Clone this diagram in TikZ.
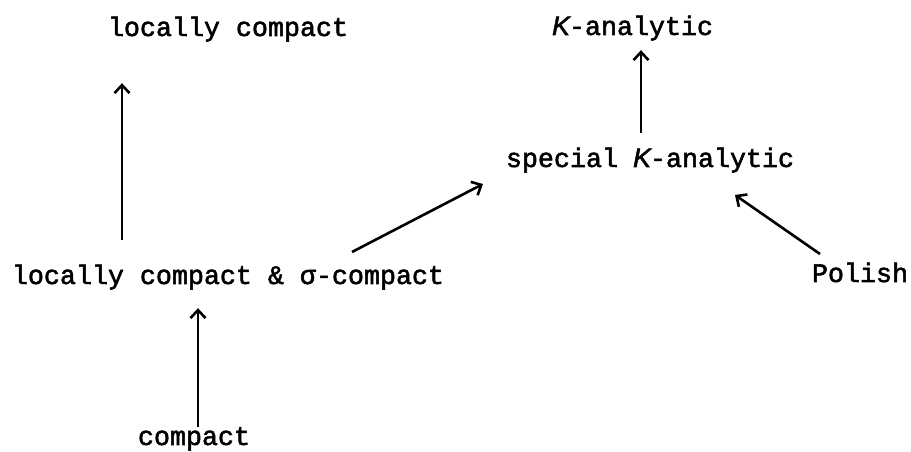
\documentclass[tikz,border=0pt]{standalone}
\usepackage{fontspec}
\setmainfont{Liberation Mono}[FakeBold=2]
\newfontfamily\ksf{Liberation Sans}[FakeBold=2]
\usetikzlibrary{arrows.meta,calc}
\newcommand{\Kit}{\makebox[16pt]{\ksf\itshape K}}
\tikzset{
  lbl/.style={anchor=base, inner sep=0pt, text height=18pt, text depth=5pt,
    font=\fontsize{26.67}{30}\selectfont},
  arr/.style={line width=2.6pt, -{Straight Barb[length=8pt,width=15pt,line width=2.6pt]}}
}
\begin{document}
\begin{tikzpicture}[x=1pt,y=1pt]
\useasboundingbox (0,0) rectangle (911,452);
\node[lbl] (lc)  at (228,416) {locally compact};
\node[lbl] (ka)  at (633,417) {\Kit-analytic};
\node[lbl] (ska) at (650,285) {special \Kit-analytic};
\node[lbl] (lcs) at (228,168) {locally compact \& σ-compact};
\node[lbl] (pol) at (860,170) {Polish};
\node[lbl] (cpt) at (194,7)   {compact};
\draw[arr] ([xshift=-106pt,yshift=26pt]lcs.north) -- ([xshift=-106pt,yshift=-42pt]lc.south);
\draw[arr] ([xshift=4pt]cpt.north) -- ([xshift=-30pt,yshift=-19pt]lcs.south);
\draw[arr] ($(lcs.base)+(124,32)$) -- ($(ska.base)+(-167,-17)$);
\draw[arr] ([xshift=-9pt,yshift=16pt]ska.north) -- ([xshift=8pt,yshift=-10pt]ka.south);
\draw[arr] ($(pol.base)+(-40,28)$) -- ($(ska.base)+(85,-28)$);
\end{tikzpicture}
\end{document}
